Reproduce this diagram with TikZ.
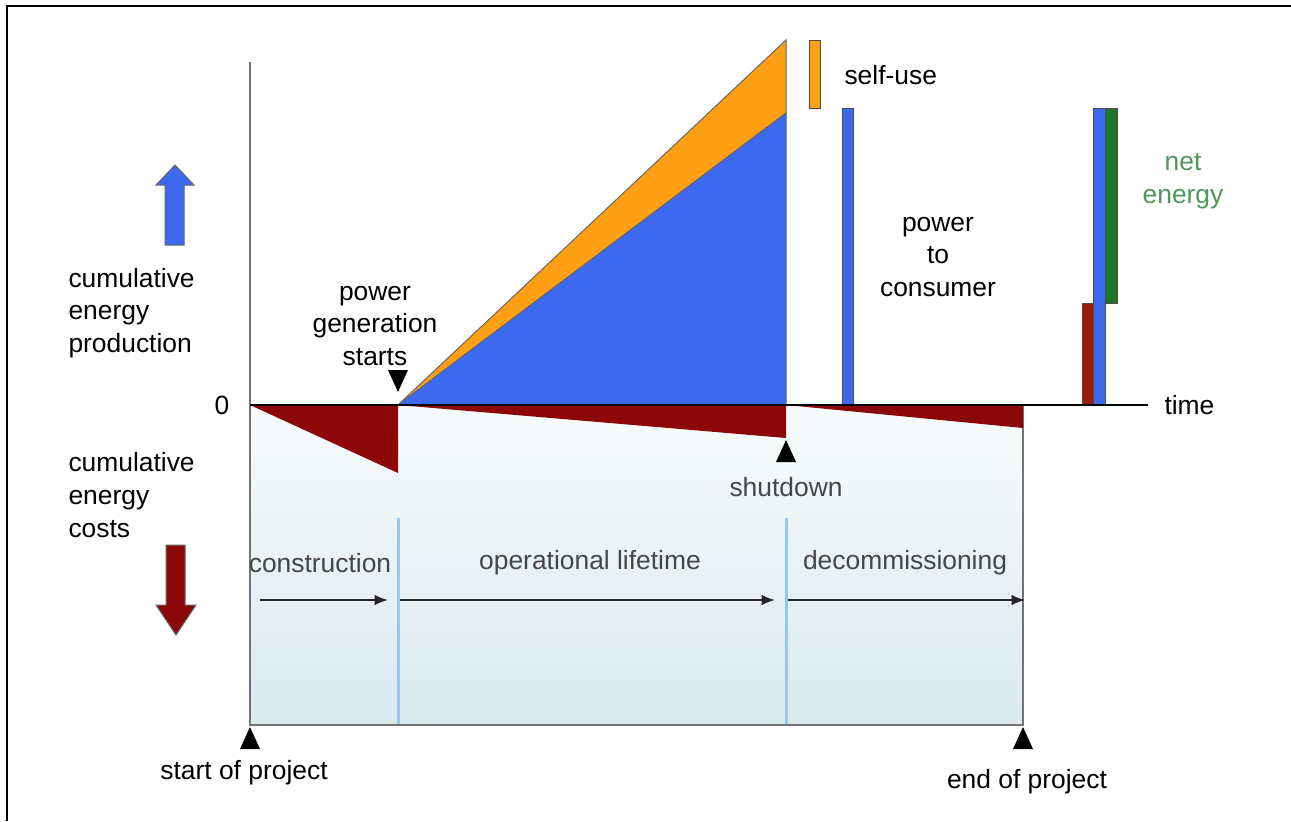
\documentclass[tikz,border=0pt]{standalone}
\usepackage{fontspec}
\setmainfont{Liberation Sans}
\usetikzlibrary{arrows.meta}

\definecolor{prodblue}{RGB}{60,105,240}
\definecolor{selforange}{RGB}{255,160,20}
\definecolor{costred}{RGB}{140,8,8}
\definecolor{netgreen}{RGB}{28,118,38}
\definecolor{nettext}{RGB}{80,150,90}
\definecolor{phaseline}{RGB}{150,200,245}
\definecolor{boxgray}{RGB}{115,115,115}
\definecolor{phasetext}{RGB}{70,70,70}

\tikzset{every picture/.style={line width=0.75pt}}
\tikzset{
  lbl/.style={inner sep=0.75pt, font=\fontsize{19.8}{24.5}\selectfont},
  phaselbl/.style={lbl, text=phasetext},
  bar/.style={draw=black!70, line width=0.75},
  marker/.style={fill=black},
  phasearrow/.style={draw=black!85, line width=1.5, -{Latex[length=10pt,width=8pt]}}
}

\begin{document}
\begin{tikzpicture}[x=0.75pt,y=0.75pt,yscale=-1,xscale=1]
\useasboundingbox (0,0) rectangle (1291,821);

%Frame
\draw [line width=1.5]  (7,821) -- (7,6) -- (1291,6) ;

%Shape: Cost area
\shade [top color={rgb,255:red,248;green,251;blue,251}, bottom color={rgb,255:red,218;green,234;blue,238}] (250,405) rectangle (1023,725) ;

%Straight Lines: phase borders
\draw [draw=phaseline, line width=2.25]  (398,518) -- (398,725) ;
\draw [draw=phaseline, line width=2.25]  (786,518) -- (786,725) ;

%Straight Lines: axis and box
\draw [draw=boxgray, line width=1.5]  (250,62) -- (250,725) -- (1023,725) -- (1023,405) ;

%Shape: costs
\fill [costred] (250,405) -- (398,405) -- (398,473) -- cycle ;
\fill [costred] (398,405) -- (786,405) -- (786,438) -- cycle ;
\fill [costred] (786,405) -- (1023,405) -- (1023,428) -- cycle ;

%Shape: production
\draw [fill=selforange, draw=black!60] (398,405) -- (786,40) -- (786,113) -- cycle ;
\draw [fill=prodblue, draw=black!60] (398,405) -- (786,113) -- (786,405) -- cycle ;

%Shape: bars
\draw [bar, fill=selforange] (809,40) rectangle (820,108) ;
\draw [bar, fill=prodblue] (842,108) rectangle (853,405) ;
\draw [bar, fill=costred!85!orange] (1082,303) rectangle (1093,405) ;
\draw [bar, fill=prodblue] (1093,108) rectangle (1105,405) ;
\draw [bar, fill=netgreen] (1105,108) rectangle (1117,303) ;

%Straight Lines: time axis
\draw [line width=1.5]  (250,405) -- (1148,405) ;

%Shape: big arrows
\draw [fill=prodblue, draw=black!60] (165,245) -- (165,185) -- (156,185) -- (175,165) -- (194,185) -- (184,185) -- (184,245) -- cycle ;
\draw [fill=costred, draw=black!60] (166,545) -- (185,545) -- (185,605) -- (196,605) -- (176,635) -- (156,605) -- (166,605) -- cycle ;

%Shape: markers
\fill [marker] (398,392) -- (388,370) -- (408,370) -- cycle ;
\fill [marker] (786,440) -- (776,462) -- (796,462) -- cycle ;
\fill [marker] (250,727) -- (240,749) -- (260,749) -- cycle ;
\fill [marker] (1023,727) -- (1013,749) -- (1033,749) -- cycle ;

%Phase arrows
\coordinate (constrA) at (260,600) ;
\coordinate (constrB) at (388,600) ;
\coordinate (operA) at (400,600) ;
\coordinate (operB) at (775,600) ;
\coordinate (decomA) at (788,600) ;
\coordinate (decomB) at (1025,600) ;
\draw [phasearrow] (constrA) -- (constrB) ;
\draw [phasearrow] (operA) -- (operB) ;
\draw [phasearrow] (decomA) -- (decomB) ;

% Text Node
\draw (67,313) node [lbl, anchor=west, align=left] (prodlbl) {cumulative\\energy\\production};
% Text Node
\draw (67,495) node [lbl, anchor=west, align=left] (costlbl) {cumulative\\energy\\costs};
% Text Node
\draw (222,405) node [lbl] (zerolbl) {0};
% Text Node
\draw (1163,405) node [lbl, anchor=west] (timelbl) {time};
% Text Node
\draw (375,326) node [lbl, align=center] (startslbl) {power\\generation\\starts};
% Text Node
\draw (843,75) node [lbl, anchor=west] (selflbl) {self-use};
% Text Node
\draw (938,257) node [lbl, align=center] (consumerlbl) {power\\to\\consumer};
% Text Node
\draw (1183,181) node [lbl, align=center, text=nettext] (netlbl) {net\\energy};
% Text Node
\draw (786,487) node [phaselbl] (shutlbl) {shutdown};
% Text Node
\draw (320,563) node [phaselbl] (constrlbl) {construction};
% Text Node
\draw (590,563) node [phaselbl] (operlbl) {operational lifetime};
% Text Node
\draw (905,563) node [phaselbl] (decomlbl) {decommissioning};
% Text Node
\draw (244,773) node [lbl] (startlbl) {start of project};
% Text Node
\draw (1027,782) node [lbl] (endlbl) {end of project};

\end{tikzpicture}
\end{document}
